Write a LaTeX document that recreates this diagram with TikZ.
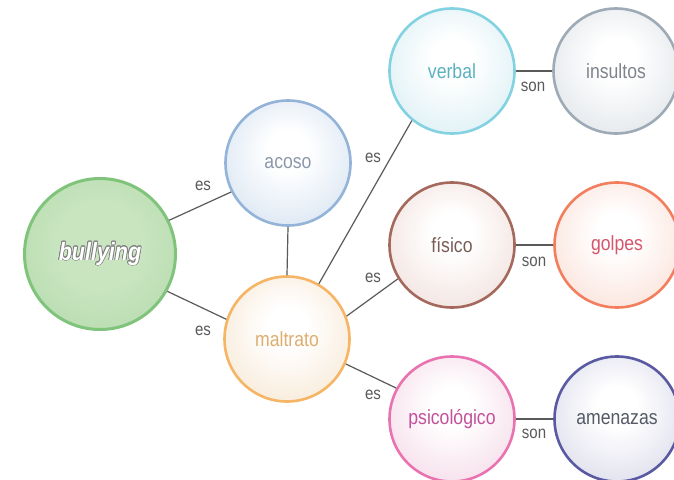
\documentclass[tikz,border=0pt]{standalone}
\usepackage{fontspec}
\usepackage[copies]{contour}
\newfontfamily\condfont[FakeStretch=0.86]{Liberation Sans}
\definecolor{linegray}{HTML}{5A5A5A}
\definecolor{bullD}{HTML}{7FC47A}\definecolor{bullI}{HTML}{C8E5C0}\definecolor{bullT}{HTML}{B8DCB0}
\definecolor{acoD}{HTML}{93B3D8}\definecolor{acoT}{HTML}{DCE7F3}\definecolor{acoX}{HTML}{8B98AA}
\definecolor{malD}{HTML}{F5B564}\definecolor{malT}{HTML}{F8EBDA}\definecolor{malX}{HTML}{DDAE6E}
\definecolor{verD}{HTML}{83D2E2}\definecolor{verT}{HTML}{DFF1F5}\definecolor{verX}{HTML}{5AB2BF}
\definecolor{insD}{HTML}{9EABB6}\definecolor{insT}{HTML}{E4E8EC}\definecolor{insX}{HTML}{7E848C}
\definecolor{fisD}{HTML}{A4695C}\definecolor{fisT}{HTML}{F2E4E0}\definecolor{fisX}{HTML}{7A5C55}
\definecolor{golD}{HTML}{F27E5E}\definecolor{golT}{HTML}{FBE4DC}\definecolor{golX}{HTML}{D5566C}
\definecolor{psiD}{HTML}{E873B0}\definecolor{psiT}{HTML}{F6DFEB}\definecolor{psiX}{HTML}{C2509A}
\definecolor{ameD}{HTML}{5A5AA2}\definecolor{ameT}{HTML}{E0E0EE}\definecolor{ameX}{HTML}{555A66}
\pgfdeclareradialshading[tint]{bubble}{\pgfpoint{0bp}{6bp}}{color(0bp)=(white); color(8bp)=(white); color(30bp)=(tint); color(50bp)=(tint)}
\pgfdeclareradialshading{greenball}{\pgfpoint{0bp}{4bp}}{color(0bp)=(bullI); color(14bp)=(bullI); color(32bp)=(bullT); color(50bp)=(bullT)}
\contourlength{0.7pt}
\begin{document}
\begin{tikzpicture}[x=1pt,y=-1pt,
  tintc/.code={\colorlet{tint}{#1}},
  bubble/.style n args={3}{circle, minimum size=125pt, inner sep=0pt, line width=2.6pt,
     draw=#1, tintc=#2, shading=bubble, text=#3, font=\condfont\fontsize{20.5}{22}\selectfont},
  conn/.style={draw=linegray, line width=1.2pt},
  lab/.style={text=linegray, font=\condfont\fontsize{17.5}{19}\selectfont, inner sep=0pt}]
\useasboundingbox (0,0) rectangle (674,479);
\clip (0,0) rectangle (674,479);
\fill[white] (0,0) rectangle (674,479);
\coordinate (cb) at (100,254);
\coordinate (ca) at (288,163);
\coordinate (cm) at (287,339);
\coordinate (cv) at (452,71);
\coordinate (ci) at (616,71);
\coordinate (cf) at (452,245);
\coordinate (cg) at (617,245);
\coordinate (cp) at (452,419);
\coordinate (cn) at (617,419);
% nodes
\node[circle, minimum size=151pt, inner sep=0pt, line width=3pt, draw=bullD, shading=greenball,
   font=\condfont\bfseries\itshape\fontsize{25}{27}\selectfont] (bull) at (cb) {\contour{gray}{\textcolor{white}{bullying}}};
\node[bubble={acoD}{acoT}{acoX}] (acoso) at (ca) {acoso};
\node[bubble={malD}{malT}{malX}] (malt) at (cm) {maltrato};
\node[bubble={verD}{verT}{verX}] (verb) at (cv) {verbal};
\node[bubble={insD}{insT}{insX}] (insu) at (ci) {insultos};
\node[bubble={fisD}{fisT}{fisX}] (fis) at (cf) {físico};
\node[bubble={golD}{golT}{golX}] (golp) at (cg) {golpes};
\node[bubble={psiD}{psiT}{psiX}] (psic) at (cp) {psicológico};
\node[bubble={ameD}{ameT}{ameX}] (amen) at (cn) {amenazas};
% connectors
\draw[conn] (bull.26.6) -- (acoso.207);
\draw[conn] (bull.-29) -- (malt.162);
\draw[conn] (acoso.south) -- (malt.north);
\draw[conn] (malt.60) -- (verb.231);
\draw[conn] (malt.21.5) -- (fis.212.5);
\draw[conn] (malt.-23) -- (psic.151);
\draw[conn] (verb.east) -- (insu.west);
\draw[conn] (fis.east) -- (golp.west);
\draw[conn] (psic.east) -- (amen.west);
% labels
\node[lab] (l1) at (203,186) {es};
\node[lab] (l2) at (203,331) {es};
\node[lab] (l3) at (373,158) {es};
\node[lab] (l4) at (373,278) {es};
\node[lab] (l5) at (373,395) {es};
\node[lab] (l6) at (533,87) {son};
\node[lab] (l7) at (534,262) {son};
\node[lab] (l8) at (534,434) {son};
\end{tikzpicture}
\end{document}
